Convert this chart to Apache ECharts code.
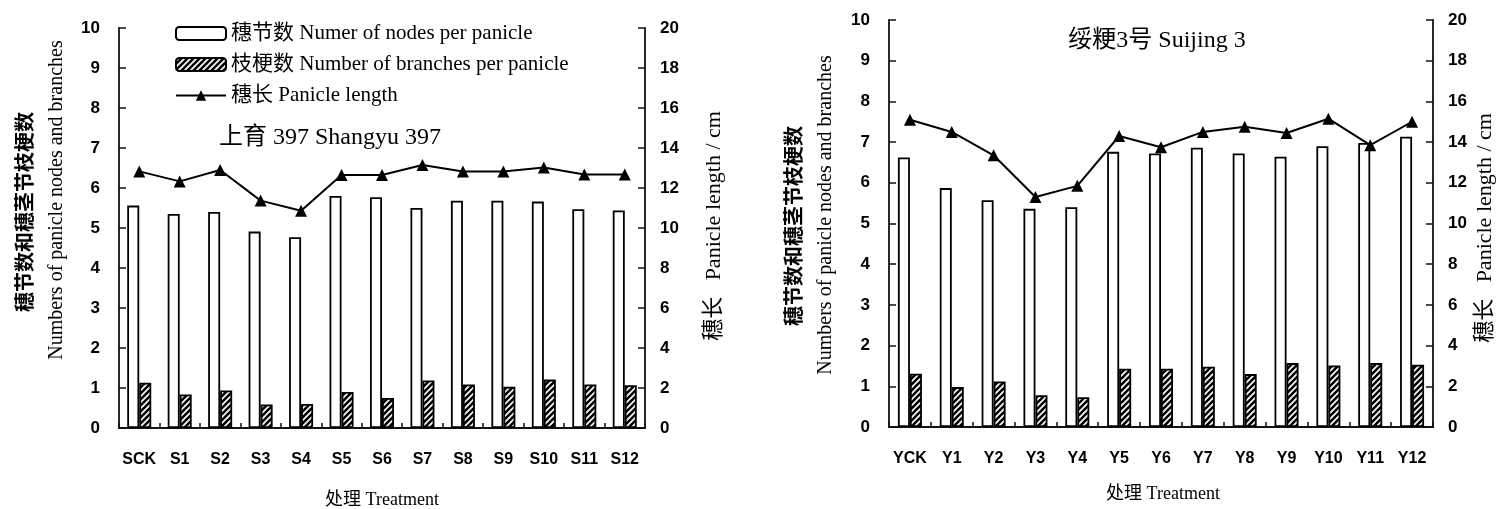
<!DOCTYPE html>
<html>
<head>
<meta charset="utf-8">
<script src="https://cdn.jsdelivr.net/npm/echarts@6/dist/echarts.min.js"></script>
<style>
html,body{margin:0;padding:0;background:#fff;}
#c{width:1503px;height:509px;}
</style>
</head>
<body>
<div id="c"></div>
<script>
// ---- data ----
var catsS = ['SCK','S1','S2','S3','S4','S5','S6','S7','S8','S9','S10','S11','S12'];
var nodesS = [5.56,5.35,5.40,4.91,4.77,5.80,5.77,5.50,5.68,5.68,5.66,5.47,5.44];
var branchesS = [1.13,0.84,0.94,0.59,0.60,0.90,0.75,1.19,1.09,1.03,1.21,1.09,1.07];
var lengthS = [12.83,12.33,12.9,11.37,10.86,12.65,12.65,13.15,12.83,12.83,13.03,12.67,12.67];

var catsY = ['YCK','Y1','Y2','Y3','Y4','Y5','Y6','Y7','Y8','Y9','Y10','Y11','Y12'];
var nodesY = [6.62,5.87,5.57,5.36,5.40,6.76,6.72,6.86,6.72,6.64,6.90,6.98,7.13];
var branchesY = [1.31,0.98,1.12,0.78,0.73,1.43,1.43,1.48,1.30,1.57,1.51,1.57,1.53];
var lengthY = [15.1,14.5,13.35,11.3,11.85,14.3,13.75,14.5,14.75,14.45,15.15,13.85,15.0];

var nameNodes = '穗节数 Numer of nodes per panicle';
var nameBranches = '枝梗数 Number of branches per panicle';
var nameLength = '穗长 Panicle length';

// ---- styles ----
function hatch(){
  var s = 6;
  var c = document.createElement('canvas');
  c.width = s; c.height = s;
  var g = c.getContext('2d');
  g.fillStyle = '#fff'; g.fillRect(0,0,s,s);
  g.strokeStyle = '#000'; g.lineWidth = 2.6;
  g.beginPath();
  g.moveTo(-s/2, s/2); g.lineTo(s/2, -s/2);
  g.moveTo(0, s); g.lineTo(s, 0);
  g.moveTo(s/2, s*1.5); g.lineTo(s*1.5, s/2);
  g.stroke();
  return c;
}
var hatchPattern = {image: hatch(), repeat: 'repeat'};

var SERIF = '"Liberation Serif","Noto Sans CJK SC",serif';
var SANS = '"Liberation Sans",Arial,sans-serif';
var CJK = '"Noto Sans CJK SC",sans-serif';
var lineColor = '#111';

function yAx(gridIndex, pos, max, interval){
  return {
    type:'value', gridIndex:gridIndex, position:pos, min:0, max:max, interval:interval,
    axisLine:{show:true, lineStyle:{color:lineColor, width:1.8}},
    axisTick:{show:true, inside:true, length:7, lineStyle:{color:lineColor, width:1.5}},
    axisLabel:{color:'#000', fontFamily:SANS, fontSize:17, fontWeight:'bold', margin:pos==='left'?19:15,
      formatter:function(v){return String(v);}},
    splitLine:{show:false}
  };
}
function xAx(gridIndex, cats){
  return {
    type:'category', gridIndex:gridIndex, data:cats, boundaryGap:true,
    axisLine:{show:true, lineStyle:{color:lineColor, width:2}},
    axisTick:{show:true, inside:true, length:5, alignWithLabel:false, lineStyle:{color:lineColor, width:1.5}},
    axisLabel:{color:'#000', fontFamily:SANS, fontSize:16, fontWeight:'bold', margin:24, interval:0},
    splitLine:{show:false}
  };
}
function barSeries(name, data, xi, yi, fill){
  return {
    name:name, type:'bar', xAxisIndex:xi, yAxisIndex:yi, data:data,
    barWidth:12, barGap:'0%',
    itemStyle:{color:fill, borderColor:'#000', borderWidth:1.8},
    emphasis:{disabled:true}, animation:false
  };
}
function lineSeries(name, data, xi, yi){
  return {
    name:name, type:'line', xAxisIndex:xi, yAxisIndex:yi, data:data,
    symbol:'triangle', symbolSize:12, showSymbol:true,
    lineStyle:{color:'#000', width:2},
    itemStyle:{color:'#000'},
    emphasis:{disabled:true}, animation:false, z:5
  };
}
function vText(text, x, y, font, size, weight){
  return {
    type:'text', x:x, y:y, rotation:Math.PI/2, silent:true,
    style:{text:text, fontFamily:font, fontSize:size, fontWeight:weight||'normal', fill:'#000',
      align:'center', verticalAlign:'middle'}
  };
}
function hText(text, x, y, font, size){
  return {
    type:'text', x:x, y:y, silent:true,
    style:{text:text, fontFamily:font, fontSize:size, fill:'#000', align:'center', verticalAlign:'middle'}
  };
}

var chart = echarts.init(document.getElementById('c'), null, {renderer:'canvas'});
chart.setOption({
  backgroundColor:'#fff',
  animation:false,
  grid:[
    {left:119, top:28, width:526, height:400, containLabel:false},
    {left:889, top:20, width:544, height:407, containLabel:false}
  ],
  xAxis:[xAx(0, catsS), xAx(1, catsY)],
  yAxis:[yAx(0,'left',10,1), yAx(0,'right',20,2), yAx(1,'left',10,1), yAx(1,'right',20,2)],
  legend:{
    show:true, orient:'vertical', left:175, top:23, padding:0, itemWidth:50, itemHeight:13, itemGap:10,
    data:[nameNodes, nameBranches, nameLength],
    textStyle:{fontFamily:SERIF, fontSize:21, color:'#000'},
    selectedMode:false
  },
  series:[
    barSeries(nameNodes, nodesS, 0, 0, '#fff'),
    barSeries(nameBranches, branchesS, 0, 0, hatchPattern),
    lineSeries(nameLength, lengthS, 0, 1),
    barSeries(nameNodes, nodesY, 1, 2, '#fff'),
    barSeries(nameBranches, branchesY, 1, 2, hatchPattern),
    lineSeries(nameLength, lengthY, 1, 3)
  ],
  graphic:[
    hText('上育 397 Shangyu 397', 330, 138, SERIF, 24),
    hText('绥粳3号 Suijing 3', 1157, 41, SERIF, 24),
    vText('穗节数和穗茎节枝梗数', 24, 212, CJK, 20, 'bold'),
    vText('Numbers of panicle nodes and branches', 57, 200, SERIF, 20),
    vText('穗长   Panicle length / cm', 714, 226, SERIF, 22),
    vText('穗节数和穗茎节枝梗数', 793, 226, CJK, 20, 'bold'),
    vText('Numbers of panicle nodes and branches', 826, 215, SERIF, 20),
    vText('穗长   Panicle length / cm', 1485, 228, SERIF, 22),
    hText('处理 Treatment', 382, 500, SERIF, 18),
    hText('处理 Treatment', 1163, 494, SERIF, 18)
  ]
});
</script>
</body>
</html>
